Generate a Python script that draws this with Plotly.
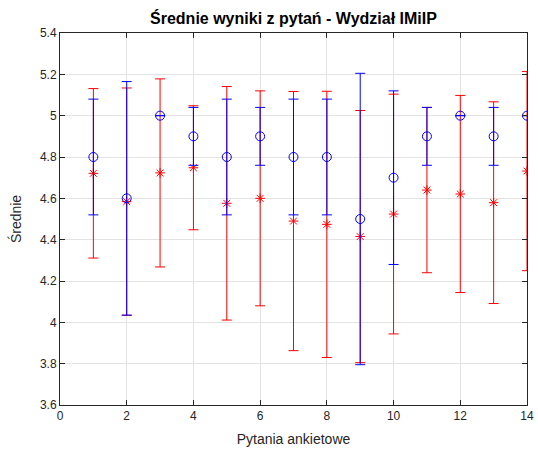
import plotly.graph_objects as go

questions = list(range(1, 15))
blue_mean = [4.8, 4.6, 5.0, 4.9, 4.8, 4.9, 4.8, 4.8, 4.5, 4.7, 4.9, 5.0, 4.9, 5.0]
blue_err = [0.28, 0.565, 0.0, 0.14, 0.28, 0.14, 0.28, 0.28, 0.705, 0.42, 0.14, 0.0, 0.14, 0.0]
red_mean = [4.721, 4.584, 4.723, 4.748, 4.576, 4.60, 4.49, 4.474, 4.415, 4.524, 4.64, 4.621, 4.579, 4.732]
red_err = [0.41, 0.55, 0.455, 0.30, 0.565, 0.52, 0.627, 0.644, 0.61, 0.58, 0.40, 0.477, 0.488, 0.482]

x_ticks = [0, 2, 4, 6, 8, 10, 12, 14]
y_ticks = [3.6, 3.8, 4.0, 4.2, 4.4, 4.6, 4.8, 5.0, 5.2, 5.4]
y_tick_text = ["3.6", "3.8", "4", "4.2", "4.4", "4.6", "4.8", "5", "5.2", "5.4"]

FONT = "Liberation Sans, Arial, sans-serif"

fig = go.Figure()
fig.add_trace(go.Scatter(
    x=questions, y=red_mean, mode="markers",
    marker=dict(symbol="asterisk-open", size=8, color="red", line=dict(color="red", width=1)),
    error_y=dict(type="data", array=red_err, symmetric=True, color="red", thickness=1, width=5),
    showlegend=False,
))
fig.add_trace(go.Scatter(
    x=questions, y=blue_mean, mode="markers",
    marker=dict(symbol="circle-open", size=9, color="blue", line=dict(color="blue", width=1)),
    error_y=dict(type="data", array=blue_err, symmetric=True, color="blue", thickness=1, width=5),
    showlegend=False,
))

axis_common = dict(
    showline=True, linecolor="#262626", linewidth=1, mirror="ticks",
    ticks="inside", ticklen=5, tickcolor="#262626",
    showgrid=True, gridcolor="#e3e3e3", gridwidth=1, zeroline=False,
    automargin=False,
    tickfont=dict(family=FONT, size=12, color="#262626"),
)

fig.update_layout(
    width=538, height=450,
    margin=dict(l=60, r=11, t=33, b=45),
    paper_bgcolor="white", plot_bgcolor="white",
    title=dict(
        text="<b>Średnie wyniki z pytań - Wydział IMiIP</b>",
        x=0.5455, xanchor="center", y=1 - 18 / 450, yanchor="middle", yref="container",
        font=dict(family=FONT, size=16, color="black"),
    ),
    xaxis=dict(
        range=[0, 14], tickvals=x_ticks, ticktext=[str(v) for v in x_ticks],
        title=dict(text="Pytania ankietowe", standoff=11,
                   font=dict(family=FONT, size=14, color="#262626")),
        **axis_common,
    ),
    yaxis=dict(
        range=[3.6, 5.4], tickvals=y_ticks, ticktext=y_tick_text,
        title=dict(text="Średnie", standoff=15,
                   font=dict(family=FONT, size=14, color="#262626")),
        **axis_common,
    ),
)

fig.write_html("out.html", config={"displayModeBar": False},
               post_script="document.body.style.margin='0';")
